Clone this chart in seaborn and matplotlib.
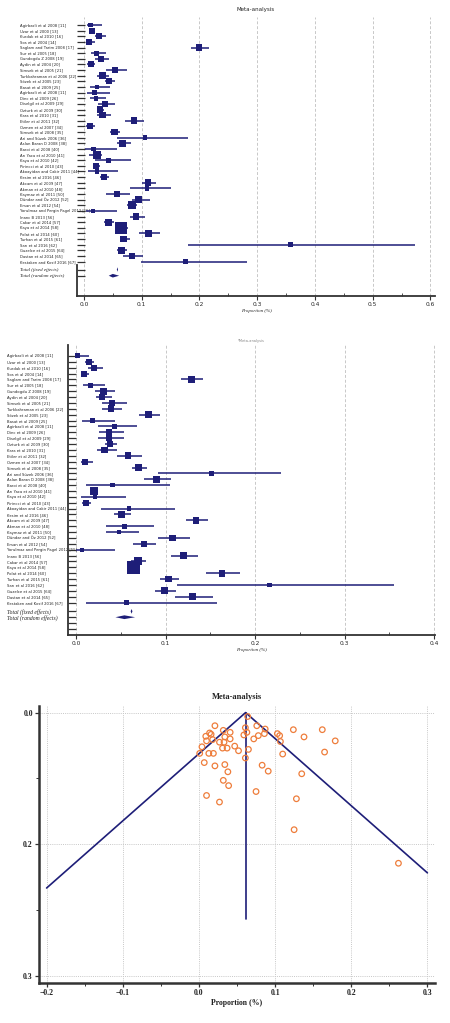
import numpy as np
import matplotlib
matplotlib.use("Agg")
import matplotlib.pyplot as plt
from matplotlib.ticker import MultipleLocator, FixedLocator
import seaborn as sns

# ---------------- data ----------------
studies = [
    "Agirbasli et al 2008 [11]", "Uzar et al 2000 [13]", "Kurdak et al 2010 [16]",
    "Sos et al 2004 [14]", "Saglam and Tarim 2008 [17]", "Sur et al 2005 [18]",
    "Gundogdu Z 2008 [19]", "Aydin et al 2004 [20]", "Simsek et al 2005 [21]",
    "Turkkahraman et al 2006 [22]", "Sözek et al 2005 [23]", "Basat et al 2009 [25]",
    "Agirbasli et al 2008 [11]", "Dinc et al 2009 [26]", "Diselgil et al 2009 [29]",
    "Ozturk et al 2009 [30]", "Kara et al 2010 [31]", "Etiler et al 2011 [32]",
    "Ozmen et al 2007 [34]", "Simsek et al 2008 [35]", "Ari and Süzek 2006 [36]",
    "Aslan Baran D 2008 [38]", "Baroi et al 2008 [40]", "Arı Yaca et al 2010 [41]",
    "Kaya et al 2010 [42]", "Pirincci et al 2010 [43]", "Akoayidan and Cakir 2011 [44]",
    "Kesim et al 2016 [46]", "Akcam et al 2009 [47]", "Akman et al 2010 [48]",
    "Kaymaz et al 2011 [50]", "Dündar and Öz 2012 [52]", "Ersan et al 2012 [54]",
    "Yorulmaz and Pergin Pagel 2012 [55]", "Inanc B 2013 [56]", "Cakar et al 2014 [57]",
    "Kaya et al 2014 [58]", "Polat et al 2014 [60]", "Turhan et al 2015 [61]",
    "Sarı et al 2016 [62]", "Guzelce et al 2015 [64]", "Dastan et al 2014 [65]",
    "Kestaken and Kosif 2016 [67]",
]
total_labels = ["Total (fixed effects)", "Total (random effects)"]

# Panel 1 (proportion, lower CI, upper CI, weight %)
p1_est = [0.012, 0.014, 0.026, 0.009, 0.199, 0.0225, 0.030, 0.012, 0.054, 0.032,
          0.043, 0.0225, 0.018, 0.021, 0.036, 0.028, 0.032, 0.087, 0.010, 0.053,
          0.106, 0.067, 0.017, 0.022, 0.042, 0.021, 0.0225, 0.035, 0.111, 0.109,
          0.057, 0.095, 0.083, 0.016, 0.090, 0.043, 0.065, 0.112, 0.069, 0.358,
          0.065, 0.083, 0.176]
p1_lo = [0.005, 0.008, 0.019, 0.0035, 0.185, 0.013, 0.019, 0.006, 0.039, 0.023,
         0.036, 0.010, 0.006, 0.010, 0.025, 0.022, 0.023, 0.071, 0.0035, 0.046,
         0.058, 0.057, 0.002, 0.009, 0.019, 0.016, 0.007, 0.028, 0.100, 0.080,
         0.039, 0.083, 0.074, 0.0035, 0.079, 0.035, 0.055, 0.096, 0.062, 0.180,
         0.057, 0.067, 0.098]
p1_hi = [0.031, 0.019, 0.038, 0.019, 0.216, 0.038, 0.043, 0.019, 0.074, 0.043,
         0.054, 0.045, 0.045, 0.038, 0.054, 0.035, 0.047, 0.104, 0.019, 0.062,
         0.180, 0.081, 0.058, 0.031, 0.081, 0.028, 0.059, 0.043, 0.124, 0.150,
         0.079, 0.114, 0.092, 0.058, 0.105, 0.052, 0.076, 0.131, 0.080, 0.574,
         0.075, 0.103, 0.282]
p1_w = [1.28, 1.84, 1.84, 1.84, 2.27, 1.28, 1.84, 1.84, 2.27, 2.27,
        1.84, 1.11, 1.11, 1.11, 1.84, 2.27, 2.27, 2.27, 1.84, 2.27,
        1.11, 2.27, 1.11, 3.28, 1.11, 2.27, 1.11, 2.27, 2.27, 1.11,
        2.27, 2.27, 3.28, 1.11, 2.27, 2.27, 7.4, 2.27, 2.27, 1.11,
        2.27, 2.27, 1.11]
p1_total_est = [0.058, 0.050]
p1_total_lo = [0.057, 0.043]
p1_total_hi = [0.059, 0.061]

# Panel 2
p2_est = [0.002, 0.0146, 0.020, 0.009, 0.129, 0.016, 0.031, 0.029, 0.040, 0.039,
          0.081, 0.018, 0.043, 0.037, 0.037, 0.038, 0.032, 0.058, 0.0105, 0.070,
          0.151, 0.090, 0.041, 0.020, 0.021, 0.011, 0.059, 0.0506, 0.134, 0.054,
          0.048, 0.108, 0.076, 0.007, 0.120, 0.069, 0.064, 0.163, 0.103, 0.216,
          0.099, 0.130, 0.056]
p2_lo = [0.0, 0.010, 0.013, 0.005, 0.117, 0.0075, 0.021, 0.022, 0.029, 0.029,
         0.070, 0.0067, 0.025, 0.026, 0.024, 0.032, 0.023, 0.046, 0.0056, 0.063,
         0.092, 0.076, 0.011, 0.016, 0.005, 0.0067, 0.028, 0.042, 0.123, 0.033,
         0.033, 0.092, 0.064, 0.0, 0.106, 0.061, 0.057, 0.145, 0.094, 0.113,
         0.088, 0.110, 0.011]
p2_hi = [0.015, 0.020, 0.030, 0.015, 0.142, 0.032, 0.044, 0.040, 0.057, 0.051,
         0.094, 0.043, 0.068, 0.054, 0.054, 0.046, 0.046, 0.074, 0.019, 0.079,
         0.229, 0.106, 0.105, 0.025, 0.056, 0.017, 0.111, 0.061, 0.147, 0.087,
         0.070, 0.127, 0.089, 0.043, 0.136, 0.078, 0.071, 0.183, 0.115, 0.355,
         0.112, 0.153, 0.157]
p2_w = [1.28, 1.84, 1.84, 1.84, 2.27, 1.28, 2.27, 2.27, 2.27, 2.27,
        2.75, 1.28, 1.28, 1.84, 1.84, 2.27, 2.27, 2.27, 1.84, 2.27,
        1.11, 2.27, 1.11, 3.28, 0.82, 1.84, 1.11, 2.27, 2.27, 1.11,
        1.11, 2.27, 2.27, 0.96, 2.27, 3.28, 8.2, 2.27, 2.27, 1.11,
        2.27, 2.27, 1.11]
p2_total_est = [0.062, 0.054]
p2_total_lo = [0.061, 0.044]
p2_total_hi = [0.063, 0.066]

# Funnel plot (x = proportion, y = standard error)
funnel_x = [0.021, 0.032, 0.009, 0.014, 0.016, 0.010, 0.018, 0.027, 0.033, 0.034,
            0.041, 0.041, 0.004, 0.001, 0.013, 0.019, 0.031, 0.037, 0.047, 0.052,
            0.007, 0.021, 0.034, 0.038, 0.032, 0.039, 0.010, 0.027, 0.061, 0.059,
            0.063, 0.064, 0.065, 0.061, 0.076, 0.072, 0.078, 0.087, 0.086, 0.103,
            0.106, 0.107, 0.110, 0.083, 0.091, 0.075, 0.124, 0.138, 0.162, 0.179,
            0.165, 0.135, 0.128, 0.125, 0.262]
funnel_se = [0.0100, 0.0135, 0.0180, 0.0155, 0.0165, 0.0215, 0.0205, 0.0225, 0.0225, 0.0185,
             0.0150, 0.0200, 0.0260, 0.0310, 0.0310, 0.0310, 0.0270, 0.0270, 0.0255, 0.0290,
             0.0380, 0.0405, 0.0395, 0.0450, 0.0515, 0.0555, 0.0630, 0.0680, 0.0115, 0.0170,
             0.0150, 0.0030, 0.0280, 0.0345, 0.0100, 0.0200, 0.0175, 0.0125, 0.0160, 0.0160,
             0.0175, 0.0220, 0.0315, 0.0400, 0.0445, 0.0600, 0.0130, 0.0185, 0.0130, 0.0215,
             0.0300, 0.0465, 0.0655, 0.0890, 0.1145]
pooled = 0.0613
funnel_x_ends = [-0.2, 0.3]
funnel_vline_end = 0.157
funnel_yticks = [0.0, 0.1, 0.2]
funnel_yticklabels = ["0.0", "0.2", "0.3"]

NAVY = "#1e1e78"
ORANGE = "#ee7d3b"
SPINE = "#333333"
GRID = "#c8c8c8"

sns.set_theme(style="white")
plt.rcParams["font.family"] = ["DejaVu Sans"]
SERIF = ["Liberation Serif", "DejaVu Serif"]
NARROW = ["Liberation Sans Narrow", "DejaVu Sans"]

W, H = 450, 1023
fig = plt.figure(figsize=(W / 100, H / 100), dpi=100)
fig.patch.set_facecolor("white")


def px_axes(left, top, right, bottom):
    return fig.add_axes([left / W, 1 - bottom / H, (right - left) / W, (bottom - top) / H])


def forest(ax, est, lo, hi, w, tot_est, tot_lo, tot_hi, xlim, ylim, xmax_tick,
           tot_rows, extra_rows, label_pad, lab_fs, tot_fs, spine_bounds=None):
    n = len(est)
    rows = np.arange(1, n + 1)
    ax.set_xlim(*xlim)
    ax.set_ylim(*ylim)
    for g in np.arange(0, xmax_tick + 1e-9, 0.1):
        ax.axvline(g, color=GRID, lw=0.7, ls=(0, (3, 2)), zorder=0)
    ax.hlines(rows, lo, hi, color=NAVY, lw=1.1, zorder=2)
    sns.scatterplot(x=est, y=rows, marker="s", s=np.array(w) * 10.1, color=NAVY,
                    edgecolor=NAVY, linewidth=0, ax=ax, legend=False, zorder=3)
    for r, e, l, h in zip(tot_rows, tot_est, tot_lo, tot_hi):
        hh = 0.32 if (h - l) > 0.005 else 0.4
        ax.fill([l, e, h, e], [r, r - hh, r, r + hh], color=NAVY, lw=0, zorder=3)
    ticks = list(rows) + list(tot_rows) + list(extra_rows)
    labels = studies + total_labels + [""] * len(extra_rows)
    ax.set_yticks(ticks)
    ax.set_yticklabels(labels)
    ax.tick_params(axis="y", direction="in", length=5.5, width=0.9, color=SPINE,
                   pad=label_pad, labelsize=lab_fs, left=True)
    for t in ax.get_yticklabels():
        t.set_ha("left")
        t.set_family(NARROW)
        t.set_color("#222222")
    for t in ax.get_yticklabels()[n:n + 2]:
        t.set_family(SERIF)
        t.set_style("italic")
        t.set_fontsize(tot_fs)
    ax.xaxis.set_major_locator(MultipleLocator(0.1))
    ax.xaxis.set_minor_locator(MultipleLocator(0.05))
    ax.tick_params(axis="x", which="major", direction="out", length=3, width=0.8,
                   color=SPINE, labelsize=4.2, pad=1.5, bottom=True)
    ax.tick_params(axis="x", which="minor", direction="in", length=2, width=0.6,
                   color=SPINE, bottom=True)
    for s in ["top", "right"]:
        ax.spines[s].set_visible(False)
    for s in ["left", "bottom"]:
        ax.spines[s].set_color(SPINE)
        ax.spines[s].set_linewidth(1.3)
    if spine_bounds is not None:
        ax.spines["left"].set_bounds(*spine_bounds)
    ax.set_xlabel("Proportion (%)", fontsize=3.6, family=SERIF, style="italic",
                  labelpad=1.5, color="#222222")
    ax.set_ylabel("")


# ---------- Panel 1 ----------
ax1 = px_axes(77, 17, 435, 296)
forest(ax1, p1_est, p1_lo, p1_hi, p1_w, p1_total_est, p1_total_lo, p1_total_hi,
       xlim=(-0.012, 0.608), ylim=(49.1, -0.42), xmax_tick=0.6,
       tot_rows=[44.4, 45.5], extra_rows=[], label_pad=41, lab_fs=2.7, tot_fs=3.6,
       spine_bounds=(43.6, 49.1))
ax1.set_title("Meta-analysis", fontsize=4, pad=4, color="#222222")

# ---------- Panel 2 ----------
ax2 = px_axes(68, 345, 435, 635)
forest(ax2, p2_est, p2_lo, p2_hi, p2_w, p2_total_est, p2_total_lo, p2_total_hi,
       xlim=(-0.009, 0.401), ylim=(48.53, -0.87), xmax_tick=0.4,
       tot_rows=[44.5, 45.5], extra_rows=[46.5, 47.5], label_pad=44, lab_fs=2.7,
       tot_fs=4.1)
ax2.set_title("*Meta-analysis", fontsize=2.6, pad=2, color="#888888")

# ---------- Panel 3 (funnel) ----------
ax3 = px_axes(39, 706, 435, 983)
ax3.set_xlim(-0.21, 0.31)
ax3.set_ylim(0.2055, -0.005)
ax3.xaxis.set_major_locator(MultipleLocator(0.1))
ax3.xaxis.set_minor_locator(MultipleLocator(0.05))
ax3.yaxis.set_major_locator(FixedLocator(funnel_yticks))
ax3.set_yticklabels(funnel_yticklabels)
ax3.yaxis.set_minor_locator(MultipleLocator(0.05))
for g in np.arange(-0.2, 0.31, 0.1):
    ax3.axvline(g, color=GRID, lw=0.7, ls=(0, (1, 1.2)), zorder=0)
for g in funnel_yticks:
    ax3.axhline(g, color=GRID, lw=0.7, ls=(0, (1, 1.2)), zorder=0)

se_ends = [(pooled - funnel_x_ends[0]) / 1.96, (funnel_x_ends[1] - pooled) / 1.96]
ax3.plot([funnel_x_ends[0], pooled, funnel_x_ends[1]], [se_ends[0], 0, se_ends[1]],
         color=NAVY, lw=1.2, zorder=2)
ax3.plot([pooled, pooled], [0, funnel_vline_end], color=NAVY, lw=1.2, zorder=2)
sns.scatterplot(x=funnel_x, y=funnel_se, ax=ax3, marker="o", s=16,
                facecolor="none", edgecolor=ORANGE, linewidth=0.9, legend=False,
                zorder=3)
for s in ["top", "right"]:
    ax3.spines[s].set_visible(False)
for s in ["left", "bottom"]:
    ax3.spines[s].set_color(SPINE)
    ax3.spines[s].set_linewidth(1.8)
ax3.tick_params(axis="both", which="major", direction="out", length=3, width=0.9,
                color=SPINE, labelsize=5.6, pad=1.5, bottom=True, left=True)
ax3.tick_params(axis="both", which="minor", direction="out", length=2, width=0.7,
                color=SPINE, bottom=True, left=True)
for t in ax3.get_xticklabels() + ax3.get_yticklabels():
    t.set_family(SERIF)
    t.set_weight("bold")
    t.set_color("#222222")
ax3.set_xlabel("Proportion (%)", fontsize=5.6, family=SERIF, weight="bold",
               labelpad=1, color="#222222")
ax3.set_ylabel("")
ax3.set_title("Meta-analysis", fontsize=6, family=SERIF, weight="bold", pad=5,
              color="#222222")

fig.savefig("out.png", dpi=100, facecolor="white")
